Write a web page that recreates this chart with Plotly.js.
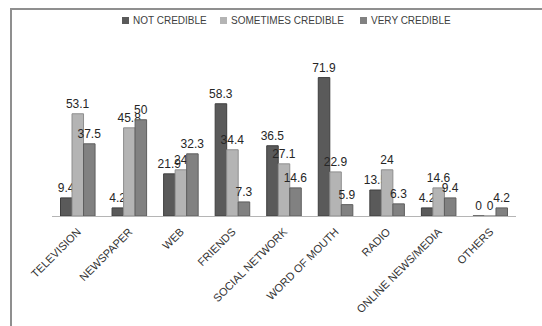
<!DOCTYPE html>
<html>
<head>
<meta charset="utf-8">
<script src="https://cdn.plot.ly/plotly-3.0.1.min.js"></script>
<style>
html,body{margin:0;padding:0;background:#fff;}
#wrap{position:relative;width:542px;height:326px;overflow:hidden;}
#chart{position:absolute;left:0;top:0;width:542px;height:326px;}
.ln{position:absolute;background:#8f8f8f;}
</style>
</head>
<body>
<div id="wrap">
<div id="chart"></div>
<div class="ln" style="left:10px;top:8px;width:532px;height:2px;"></div>
<div class="ln" style="left:10px;top:8px;width:2px;height:318px;"></div>
</div>
<script>
const categories = ["TELEVISION","NEWSPAPER","WEB","FRIENDS","SOCIAL NETWORK","WORD OF MOUTH","RADIO","ONLINE NEWS/MEDIA","OTHERS"];
const notCredible = [9.4, 4.2, 21.9, 58.3, 36.5, 71.9, 13.5, 4.2, 0];
const sometimesCredible = [53.1, 45.8, 24, 34.4, 27.1, 22.9, 24, 14.6, 0];
const veryCredible = [37.5, 50, 32.3, 7.3, 14.6, 5.9, 6.3, 9.4, 4.2];
const seriesNames = ["NOT CREDIBLE","SOMETIMES CREDIBLE","VERY CREDIBLE"];
const seriesColors = ["#5a5a5a","#b4b4b4","#818181"];
const lineColors = ["#3e3e3e","#8e8e8e","#5e5e5e"];

const FONT = "Liberation Sans, Arial, sans-serif";
const allSeries = [notCredible, sometimesCredible, veryCredible];
const traces = allSeries.map((vals, i) => ({
  type: "bar",
  name: seriesNames[i],
  x: categories,
  y: vals,
  text: vals.map(v => String(v)),
  textposition: "outside",
  constraintext: "none",
  cliponaxis: false,
  textfont: {family: FONT, size: 12, color: "#262626"},
  marker: {color: seriesColors[i], line: {color: lineColors[i], width: 1}},
  hoverinfo: "none"
}));

// custom compact legend (paper coordinates)
const mL = 52, mR = 26, mT = 62, mB = 110, W = 542, H = 326;
const pw = W - mL - mR, ph = H - mT - mB;
const px = x => (x - mL) / pw;
const py = y => (H - mB - y) / ph;
const legendX = [122, 220, 360];
const legendY = 20.5;
const shapes = [];
const annotations = [];
seriesNames.forEach((n, i) => {
  shapes.push({type: "rect", xref: "paper", yref: "paper",
    x0: px(legendX[i]), x1: px(legendX[i] + 7), y0: py(legendY + 3.5), y1: py(legendY - 3.5),
    fillcolor: seriesColors[i], line: {width: 0}});
  annotations.push({xref: "paper", yref: "paper", x: px(legendX[i] + 9), y: py(legendY),
    xanchor: "left", yanchor: "middle", showarrow: false, text: n,
    font: {family: FONT, size: 10, color: "#404040"}});
});

const layout = {
  width: W, height: H,
  margin: {l: mL, r: mR, t: mT, b: mB},
  paper_bgcolor: "rgba(0,0,0,0)",
  plot_bgcolor: "rgba(0,0,0,0)",
  barmode: "group",
  bargap: 0.33,
  bargroupgap: 0,
  showlegend: false,
  shapes: shapes,
  annotations: annotations,
  xaxis: {
    type: "category",
    tickangle: -45,
    tickfont: {family: FONT, size: 11, color: "#333"},
    ticklabelstandoff: 4,
    showline: true, linecolor: "#b5b5b5", linewidth: 1,
    ticks: "", showgrid: false, zeroline: false
  },
  yaxis: {
    range: [0, 80],
    visible: false,
    showgrid: false, zeroline: false
  },
  font: {family: FONT}
};

Plotly.newPlot("chart", traces, layout, {staticPlot: true, displayModeBar: false});
</script>
</body>
</html>
